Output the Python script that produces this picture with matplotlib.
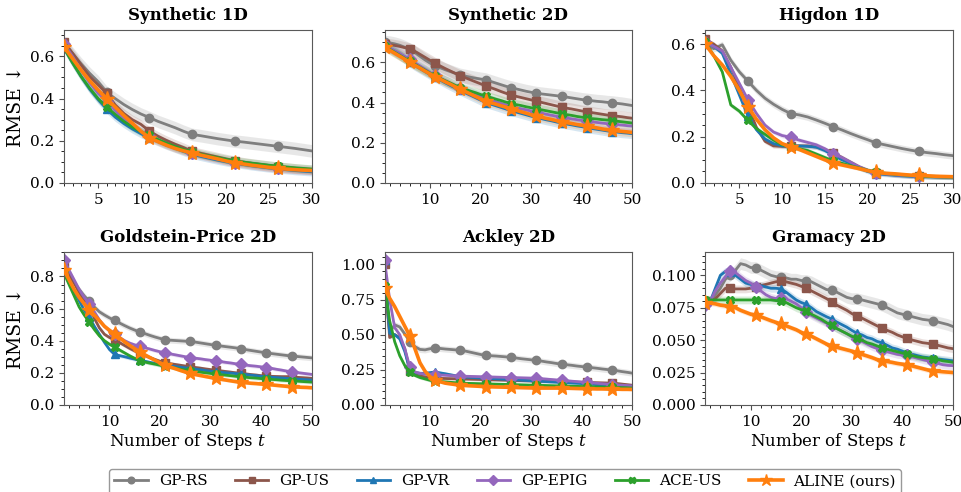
import numpy as np
import matplotlib
matplotlib.use("Agg")
import matplotlib.pyplot as plt

plt.rcParams['font.family'] = 'serif'
plt.rcParams['font.serif'] = ['DejaVu Serif']
plt.rcParams['mathtext.fontset'] = 'dejavuserif'

# metodos y estilos
metodos = ["GP-RS", "GP-US", "GP-VR", "GP-EPIG", "ACE-US", "ALINE (ours)"]
colores = ["#7f7f7f", "#8c564b", "#1f77b4", "#9467bd", "#2ca02c", "#ff7f0e"]
marcadores = ["o", "s", "^", "D", "X", "*"]

titulos = ["Synthetic 1D", "Synthetic 2D", "Higdon 1D",
           "Goldstein-Price 2D", "Ackley 2D", "Gramacy 2D"]
pasos_max = [30, 50, 30, 50, 50, 50]
yticks = [[0.0, 0.2, 0.4, 0.6], [0.0, 0.2, 0.4, 0.6], [0.0, 0.2, 0.4, 0.6],
          [0.0, 0.2, 0.4, 0.6, 0.8], [0.0, 0.25, 0.5, 0.75, 1.0],
          [0.0, 0.025, 0.05, 0.075, 0.1]]
yfmt = ["%.1f", "%.1f", "%.1f", "%.1f", "%.2f", "%.3f"]

# ---- Synthetic 1D ----
syn1_rs = [0.660,0.615,0.565,0.520,0.480,0.430,0.400,0.372,0.348,0.327,0.310,0.292,0.277,0.262,0.245,0.230,0.224,0.217,0.210,0.204,0.198,0.194,0.189,0.184,0.179,0.174,0.169,0.164,0.158,0.152]
syn1_us = [0.670,0.615,0.560,0.505,0.465,0.425,0.370,0.330,0.300,0.278,0.246,0.222,0.202,0.184,0.168,0.150,0.141,0.132,0.123,0.114,0.106,0.099,0.093,0.088,0.083,0.078,0.074,0.070,0.066,0.063]
syn1_vr = [0.640,0.570,0.505,0.445,0.395,0.350,0.312,0.282,0.256,0.234,0.214,0.196,0.179,0.164,0.149,0.136,0.126,0.117,0.108,0.100,0.093,0.087,0.081,0.076,0.071,0.067,0.063,0.059,0.056,0.053]
syn1_epig = [0.660,0.600,0.535,0.475,0.425,0.385,0.343,0.303,0.272,0.246,0.222,0.202,0.184,0.168,0.154,0.142,0.132,0.122,0.113,0.105,0.097,0.091,0.085,0.080,0.075,0.071,0.067,0.064,0.061,0.058]
syn1_ace = [0.640,0.570,0.505,0.450,0.400,0.360,0.325,0.292,0.265,0.243,0.225,0.206,0.189,0.173,0.159,0.147,0.137,0.128,0.120,0.112,0.105,0.099,0.094,0.089,0.084,0.080,0.076,0.072,0.069,0.066]
syn1_aline = [0.645,0.590,0.535,0.485,0.440,0.400,0.360,0.320,0.283,0.245,0.214,0.196,0.179,0.164,0.152,0.142,0.132,0.123,0.114,0.104,0.096,0.090,0.084,0.079,0.074,0.069,0.066,0.063,0.061,0.059]
syn1_err = [0.030, 0.022, 0.020, 0.020, 0.020, 0.018]

# ---- Synthetic 2D ----
syn2_rs = [0.700,0.697,0.692,0.685,0.675,0.662,0.648,0.630,0.612,0.596,
           0.583,0.573,0.563,0.554,0.545,0.536,0.531,0.526,0.521,0.517,
           0.513,0.505,0.497,0.489,0.481,0.474,0.468,0.462,0.456,0.451,
           0.446,0.443,0.440,0.437,0.434,0.431,0.427,0.423,0.419,0.415,
           0.412,0.409,0.406,0.404,0.401,0.399,0.396,0.393,0.389,0.385]
syn2_us = [0.690,0.688,0.684,0.679,0.673,0.667,0.655,0.640,0.625,0.610,
           0.595,0.582,0.569,0.557,0.545,0.533,0.523,0.513,0.503,0.493,
           0.483,0.474,0.465,0.455,0.446,0.437,0.431,0.425,0.419,0.413,
           0.407,0.401,0.395,0.389,0.383,0.377,0.372,0.368,0.363,0.358,
           0.354,0.350,0.346,0.342,0.338,0.335,0.332,0.329,0.325,0.322]
syn2_vr = [0.690,0.672,0.654,0.636,0.618,0.600,0.584,0.569,0.554,0.539,
           0.525,0.512,0.498,0.485,0.472,0.460,0.448,0.436,0.424,0.412,
           0.400,0.392,0.384,0.376,0.368,0.360,0.353,0.346,0.339,0.332,
           0.325,0.320,0.314,0.309,0.303,0.298,0.293,0.289,0.284,0.280,
           0.275,0.271,0.267,0.263,0.259,0.255,0.253,0.250,0.248,0.245]
syn2_epig = [0.685,0.672,0.658,0.644,0.630,0.615,0.598,0.582,0.566,0.550,
             0.535,0.522,0.509,0.496,0.484,0.472,0.461,0.451,0.440,0.430,
             0.420,0.412,0.404,0.396,0.388,0.380,0.374,0.369,0.364,0.358,
             0.353,0.348,0.342,0.337,0.332,0.327,0.323,0.319,0.315,0.311,
             0.307,0.304,0.301,0.298,0.295,0.292,0.290,0.288,0.285,0.283]
syn2_ace = [0.680,0.665,0.650,0.635,0.620,0.605,0.590,0.575,0.561,0.546,
            0.532,0.520,0.508,0.497,0.485,0.474,0.466,0.457,0.449,0.440,
            0.432,0.425,0.417,0.410,0.402,0.395,0.390,0.385,0.379,0.374,
            0.369,0.364,0.359,0.354,0.349,0.344,0.340,0.336,0.331,0.327,
            0.323,0.320,0.318,0.315,0.313,0.310,0.307,0.304,0.301,0.298]
syn2_aline = [0.675,0.660,0.645,0.630,0.615,0.600,0.585,0.571,0.556,0.542,
              0.528,0.516,0.503,0.491,0.478,0.466,0.454,0.442,0.430,0.418,
              0.407,0.399,0.392,0.384,0.377,0.369,0.362,0.354,0.347,0.339,
              0.332,0.327,0.321,0.316,0.310,0.305,0.300,0.296,0.291,0.287,
              0.282,0.278,0.274,0.269,0.265,0.261,0.259,0.256,0.254,0.251]
syn2_err = [0.035, 0.030, 0.025, 0.025, 0.025, 0.022]

# ---- Higdon 1D ----
hig_rs = [0.600,0.580,0.597,0.530,0.480,0.440,0.400,0.366,0.340,0.318,0.300,0.294,0.285,0.272,0.258,0.243,0.229,0.214,0.200,0.187,0.173,0.165,0.157,0.149,0.142,0.136,0.131,0.127,0.122,0.118]
hig_us = [0.620,0.600,0.570,0.500,0.410,0.330,0.240,0.180,0.160,0.158,0.158,0.160,0.160,0.155,0.145,0.130,0.110,0.090,0.070,0.055,0.045,0.040,0.036,0.033,0.031,0.030,0.028,0.027,0.026,0.025]
hig_vr = [0.610,0.590,0.560,0.470,0.380,0.290,0.230,0.190,0.170,0.160,0.160,0.160,0.158,0.155,0.140,0.120,0.100,0.085,0.065,0.050,0.040,0.037,0.034,0.031,0.029,0.028,0.027,0.026,0.025,0.024]
hig_epig = [0.610,0.590,0.570,0.500,0.430,0.360,0.300,0.250,0.220,0.205,0.197,0.185,0.175,0.165,0.148,0.126,0.110,0.090,0.070,0.055,0.045,0.040,0.036,0.033,0.031,0.030,0.028,0.027,0.026,0.025]
hig_ace = [0.610,0.550,0.480,0.337,0.310,0.270,0.235,0.210,0.185,0.165,0.155,0.148,0.140,0.125,0.110,0.095,0.085,0.075,0.065,0.055,0.047,0.042,0.038,0.035,0.032,0.030,0.028,0.027,0.026,0.025]
hig_aline = [0.600,0.550,0.510,0.460,0.400,0.330,0.275,0.230,0.195,0.170,0.157,0.145,0.130,0.115,0.100,0.086,0.078,0.070,0.062,0.053,0.046,0.042,0.040,0.037,0.034,0.033,0.031,0.029,0.028,0.027]
hig_err = [0.015, 0.010, 0.010, 0.010, 0.010, 0.008]

# ---- Goldstein-Price 2D ----
gp_rs = [0.840,0.800,0.760,0.720,0.680,0.645,0.610,0.580,0.560,0.542,
         0.526,0.510,0.494,0.479,0.466,0.454,0.444,0.433,0.423,0.414,
         0.406,0.403,0.401,0.399,0.397,0.396,0.391,0.386,0.381,0.376,
         0.371,0.367,0.363,0.359,0.355,0.350,0.344,0.339,0.334,0.329,
         0.324,0.320,0.316,0.312,0.308,0.305,0.302,0.299,0.296,0.293]
gp_us = [0.880,0.820,0.760,0.700,0.650,0.600,0.540,0.480,0.440,0.420,
         0.406,0.388,0.370,0.352,0.336,0.320,0.307,0.295,0.283,0.272,
         0.262,0.257,0.252,0.247,0.242,0.237,0.233,0.229,0.224,0.220,
         0.216,0.212,0.208,0.204,0.200,0.196,0.193,0.189,0.186,0.182,
         0.179,0.178,0.177,0.176,0.176,0.175,0.172,0.170,0.168,0.165]
gp_vr = [0.850,0.780,0.710,0.650,0.590,0.546,0.490,0.440,0.390,0.345,
         0.315,0.307,0.300,0.292,0.285,0.278,0.272,0.265,0.259,0.253,
         0.247,0.243,0.239,0.235,0.231,0.227,0.223,0.219,0.214,0.210,
         0.206,0.203,0.200,0.198,0.195,0.192,0.189,0.185,0.182,0.178,
         0.175,0.173,0.170,0.168,0.165,0.163,0.161,0.159,0.157,0.155]
gp_epig = [0.900,0.840,0.780,0.720,0.670,0.630,0.580,0.530,0.490,0.460,
           0.440,0.420,0.400,0.385,0.374,0.365,0.356,0.348,0.339,0.331,
           0.324,0.318,0.312,0.306,0.300,0.295,0.291,0.287,0.282,0.278,
           0.274,0.270,0.265,0.261,0.256,0.252,0.248,0.244,0.241,0.237,
           0.233,0.228,0.222,0.217,0.211,0.206,0.202,0.198,0.194,0.190]
gp_ace = [0.820,0.750,0.680,0.610,0.560,0.515,0.470,0.430,0.400,0.378,
          0.360,0.342,0.324,0.306,0.290,0.274,0.267,0.260,0.254,0.247,
          0.241,0.235,0.229,0.223,0.218,0.212,0.208,0.204,0.200,0.196,
          0.192,0.189,0.185,0.182,0.178,0.175,0.172,0.169,0.167,0.164,
          0.161,0.159,0.157,0.154,0.152,0.150,0.148,0.146,0.144,0.142]
gp_aline = [0.840,0.780,0.720,0.670,0.630,0.592,0.560,0.525,0.490,0.465,
            0.443,0.418,0.393,0.370,0.350,0.330,0.312,0.295,0.278,0.262,
            0.247,0.236,0.226,0.215,0.205,0.196,0.189,0.183,0.177,0.171,
            0.165,0.160,0.155,0.150,0.145,0.140,0.138,0.135,0.133,0.130,
            0.128,0.125,0.122,0.119,0.116,0.113,0.112,0.110,0.109,0.107]
gp_err = [0.018, 0.012, 0.012, 0.012, 0.012, 0.010]

# ---- Ackley 2D ----
ack_rs = [0.830,0.520,0.570,0.555,0.505,0.450,0.415,0.395,0.392,0.400,
          0.405,0.402,0.398,0.395,0.392,0.388,0.383,0.375,0.367,0.359,
          0.352,0.350,0.348,0.345,0.342,0.338,0.334,0.329,0.325,0.321,
          0.317,0.312,0.306,0.301,0.295,0.290,0.286,0.282,0.277,0.273,
          0.269,0.265,0.261,0.256,0.252,0.248,0.243,0.237,0.232,0.226]
ack_us = [1.000,0.480,0.500,0.480,0.400,0.240,0.215,0.205,0.200,0.195,
          0.190,0.189,0.188,0.187,0.186,0.185,0.184,0.183,0.182,0.181,
          0.180,0.179,0.178,0.177,0.176,0.175,0.174,0.173,0.172,0.171,
          0.170,0.169,0.168,0.167,0.166,0.165,0.164,0.163,0.162,0.161,
          0.160,0.159,0.158,0.157,0.156,0.155,0.152,0.148,0.144,0.140]
ack_vr = [1.030,0.510,0.500,0.470,0.380,0.250,0.230,0.225,0.225,0.230,
          0.235,0.228,0.222,0.215,0.208,0.200,0.198,0.196,0.194,0.192,
          0.190,0.188,0.186,0.184,0.182,0.180,0.178,0.176,0.174,0.172,
          0.170,0.168,0.166,0.164,0.162,0.160,0.158,0.156,0.154,0.152,
          0.150,0.147,0.144,0.141,0.138,0.135,0.133,0.130,0.128,0.125]
ack_epig = [1.030,0.750,0.550,0.500,0.400,0.270,0.235,0.225,0.220,0.220,
            0.215,0.213,0.211,0.209,0.207,0.205,0.204,0.203,0.202,0.201,
            0.200,0.199,0.198,0.197,0.196,0.195,0.194,0.193,0.192,0.191,
            0.190,0.187,0.184,0.181,0.178,0.175,0.172,0.169,0.166,0.163,
            0.160,0.157,0.154,0.151,0.148,0.145,0.143,0.140,0.138,0.135]
ack_ace = [0.850,0.600,0.450,0.350,0.280,0.235,0.210,0.195,0.185,0.175,
           0.170,0.167,0.164,0.161,0.158,0.155,0.154,0.153,0.152,0.151,
           0.150,0.149,0.148,0.147,0.146,0.145,0.144,0.143,0.142,0.141,
           0.140,0.139,0.138,0.137,0.136,0.135,0.134,0.133,0.132,0.131,
           0.130,0.129,0.128,0.127,0.126,0.125,0.124,0.123,0.122,0.120]
ack_aline = [0.830,0.760,0.700,0.630,0.560,0.490,0.400,0.300,0.240,0.200,
             0.180,0.165,0.155,0.150,0.145,0.140,0.138,0.136,0.134,0.132,
             0.130,0.129,0.128,0.127,0.126,0.125,0.124,0.123,0.122,0.121,
             0.120,0.120,0.120,0.120,0.120,0.120,0.119,0.118,0.117,0.116,
             0.115,0.115,0.114,0.114,0.113,0.113,0.112,0.111,0.111,0.110]
ack_err = [0.022, 0.012, 0.012, 0.012, 0.012, 0.010]

# ---- Gramacy 2D ----
gra_rs = [0.080,0.080,0.085,0.090,0.097,0.100,0.104,0.109,0.108,0.106,
          0.106,0.104,0.102,0.100,0.099,0.0987,0.098,0.097,0.097,0.096,
          0.096,0.095,0.093,0.091,0.089,0.0887,0.087,0.085,0.083,0.082,
          0.082,0.081,0.080,0.079,0.078,0.0768,0.075,0.073,0.071,0.070,
          0.069,0.068,0.067,0.066,0.0655,0.065,0.064,0.063,0.062,0.0605]
gra_us = [0.080,0.080,0.082,0.086,0.090,0.090,0.0895,0.0895,0.0895,0.090,
          0.0908,0.092,0.093,0.094,0.095,0.0955,0.095,0.094,0.093,0.0915,
          0.0903,0.088,0.086,0.084,0.082,0.0797,0.077,0.075,0.073,0.0705,
          0.0684,0.067,0.065,0.063,0.061,0.0592,0.0575,0.056,0.054,0.0525,
          0.0513,0.050,0.049,0.048,0.0475,0.0468,0.046,0.045,0.044,0.0434]
gra_vr = [0.078,0.080,0.090,0.100,0.103,0.1026,0.100,0.097,0.094,0.093,
          0.092,0.092,0.091,0.090,0.090,0.0895,0.087,0.084,0.081,0.079,
          0.0776,0.075,0.072,0.070,0.068,0.0663,0.064,0.062,0.060,0.0575,
          0.0553,0.054,0.052,0.051,0.049,0.0479,0.046,0.044,0.043,0.0415,
          0.040,0.039,0.038,0.037,0.0365,0.036,0.0355,0.035,0.0345,0.034]
gra_epig = [0.077,0.080,0.088,0.094,0.099,0.1034,0.102,0.099,0.096,0.094,
            0.0913,0.088,0.085,0.083,0.082,0.0824,0.082,0.080,0.078,0.075,
            0.0716,0.069,0.067,0.065,0.063,0.0613,0.059,0.057,0.055,0.0525,
            0.0505,0.049,0.047,0.045,0.0435,0.0421,0.041,0.040,0.039,0.0385,
            0.0382,0.037,0.036,0.035,0.034,0.0329,0.032,0.031,0.0305,0.0303]
gra_ace = [0.081,0.081,0.081,0.081,0.081,0.081,0.081,0.081,0.081,0.081,
           0.081,0.081,0.081,0.081,0.0805,0.0803,0.079,0.077,0.075,0.0735,
           0.0724,0.070,0.068,0.066,0.0635,0.0613,0.059,0.057,0.055,0.053,
           0.0513,0.050,0.048,0.047,0.0455,0.044,0.043,0.042,0.041,0.040,
           0.039,0.038,0.037,0.0365,0.036,0.0355,0.035,0.034,0.0335,0.0329]
gra_aline = [0.079,0.0785,0.078,0.077,0.0765,0.0758,0.075,0.073,0.0715,0.070,
             0.0692,0.068,0.0665,0.065,0.0637,0.0624,0.061,0.0595,0.058,0.056,
             0.0545,0.053,0.051,0.049,0.047,0.0455,0.0445,0.0435,0.0425,0.0415,
             0.0403,0.039,0.0378,0.0365,0.035,0.0342,0.0335,0.0328,0.032,0.0314,
             0.0308,0.030,0.029,0.028,0.027,0.0263,0.026,0.0256,0.0253,0.025]
gra_err = [0.0045, 0.003, 0.003, 0.003, 0.003, 0.002]

paneles = [
    ([syn1_rs, syn1_us, syn1_vr, syn1_epig, syn1_ace, syn1_aline], syn1_err),
    ([syn2_rs, syn2_us, syn2_vr, syn2_epig, syn2_ace, syn2_aline], syn2_err),
    ([hig_rs, hig_us, hig_vr, hig_epig, hig_ace, hig_aline], hig_err),
    ([gp_rs, gp_us, gp_vr, gp_epig, gp_ace, gp_aline], gp_err),
    ([ack_rs, ack_us, ack_vr, ack_epig, ack_ace, ack_aline], ack_err),
    ([gra_rs, gra_us, gra_vr, gra_epig, gra_ace, gra_aline], gra_err),
]

fig, axs = plt.subplots(2, 3, figsize=(9.62, 4.92), dpi=100)
fig.subplots_adjust(left=0.0665, right=0.9906, top=0.939, bottom=0.177,
                    wspace=0.294, hspace=0.451)

for k, ax in enumerate(axs.flat):
    series, errs = paneles[k]
    for i in range(len(metodos)):
        y = np.array(series[i])
        x = np.arange(1, len(y) + 1)
        ax.fill_between(x, y - errs[i], y + errs[i], color=colores[i],
                        alpha=0.18, linewidth=0)
        if i == 5:
            ax.plot(x, y, color=colores[i], marker=marcadores[i], markevery=5,
                    markersize=11, linewidth=2.6, label=metodos[i], zorder=3)
        else:
            ax.plot(x, y, color=colores[i], marker=marcadores[i], markevery=5,
                    markersize=6, linewidth=2, label=metodos[i], zorder=2)
    ax.set_xlim(1, pasos_max[k])
    ax.set_ylim(bottom=0)
    if pasos_max[k] == 30:
        ax.set_xticks([5, 10, 15, 20, 25, 30])
    else:
        ax.set_xticks([10, 20, 30, 40, 50])
    ax.set_yticks(yticks[k])
    ax.set_yticklabels([yfmt[k] % v for v in yticks[k]])
    ax.minorticks_on()
    ax.tick_params(labelsize=11, color='0.3')
    for s in ax.spines.values():
        s.set_color('0.35')
    ax.set_title(titulos[k], fontweight='bold', fontsize=12, pad=7)
    if k % 3 == 0:
        ax.set_ylabel('RMSE ↓', fontsize=13.5)
    if k >= 3:
        ax.set_xlabel('Number of Steps $t$', fontsize=12, labelpad=2)

handles, labels = axs[0, 0].get_legend_handles_labels()
fig.legend(handles, labels, loc='upper center', bbox_to_anchor=(0.525, 0.047),
           borderaxespad=0, ncol=6, frameon=True, edgecolor='0.5',
           markerscale=0.8, handlelength=2.2, handletextpad=0.7,
           columnspacing=1.8, borderpad=0.35,
           prop={'family': 'DejaVu Serif', 'size': 11})

fig.savefig('out.png', dpi=100)
